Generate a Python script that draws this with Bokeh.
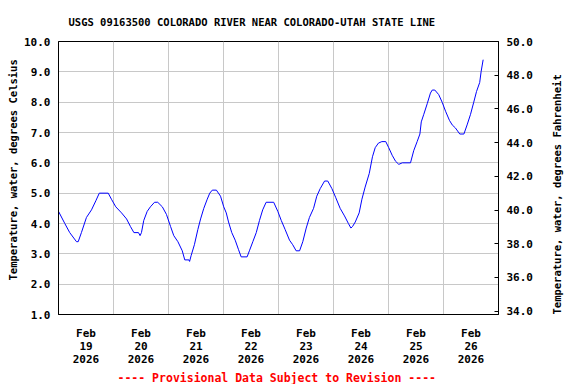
import math
from bokeh.plotting import figure
from bokeh.models import Range1d, LinearAxis, FixedTicker, PrintfTickFormatter, Title
from bokeh.embed import file_html
from bokeh.resources import INLINE

# Hours since 2026-02-19 00:00 and water temperature (deg C)
hours = [0.0, 2.75, 4.9, 7.85, 8.6, 10.0, 12.2, 14.4, 16.3, 17.8, 21.7, 23.1, 25.0, 27.5,
         29.7, 31.4, 32.9, 34.9, 35.6, 36.2, 37.2, 38.7, 40.1, 41.9, 43.3, 45.3, 47.1,
         48.9, 50.3, 52.1, 54.0, 55.1, 56.9, 57.2, 57.9, 59.3, 60.8, 62.0, 63.4, 64.9,
         66.0, 67.1, 68.9, 70.7, 72.1, 73.2, 74.2, 75.6, 77.1, 78.5, 79.7, 82.3, 83.3,
         84.8, 86.3, 87.7, 89.1, 90.6, 93.9, 95.7, 97.2, 98.9, 100.8, 102.2, 103.7,
         105.2, 106.6, 108.1, 109.5, 111.3, 112.7, 114.2, 116.1, 117.5, 119.3, 121.0,
         122.9, 124.8, 126.5, 127.6, 128.3, 129.5, 131.2, 132.4, 133.8, 135.6, 137.0,
         138.2, 139.6, 141.1, 142.8, 144.1, 145.6, 147.1, 148.5, 150.0, 153.6, 155.0,
         156.5, 157.7, 158.3, 159.4, 160.9, 162.3, 163.1, 164.2, 165.9, 167.4, 168.9,
         170.6, 171.8, 173.2, 175.1, 176.9, 178.3, 179.8, 181.2, 182.4, 183.8, 184.4,
         185.3]
temp_c = [4.4, 4.0, 3.7, 3.4, 3.4, 3.7, 4.2, 4.45, 4.75, 5.0, 5.0, 4.8, 4.55, 4.35,
          4.15, 3.9, 3.7, 3.7, 3.6, 3.7, 4.1, 4.4, 4.55, 4.7, 4.7, 4.55, 4.3,
          3.9, 3.6, 3.4, 3.1, 2.8, 2.8, 2.75, 2.95, 3.3, 3.8, 4.15, 4.5, 4.8,
          5.0, 5.1, 5.1, 4.9, 4.55, 4.35, 4.05, 3.7, 3.45, 3.15, 2.9, 2.9, 3.1,
          3.4, 3.7, 4.1, 4.45, 4.7, 4.7, 4.4, 4.1, 3.8, 3.45, 3.3, 3.1,
          3.1, 3.4, 3.85, 4.2, 4.5, 4.9, 5.15, 5.4, 5.4, 5.15, 4.85,
          4.5, 4.25, 4.0, 3.85, 3.9, 4.05, 4.35, 4.8, 5.2, 5.65, 6.2,
          6.5, 6.65, 6.7, 6.7, 6.5, 6.25, 6.05, 5.95, 6.0, 6.0, 6.4,
          6.7, 6.95, 7.35, 7.6, 7.95, 8.3, 8.4, 8.4, 8.25, 8.0, 7.7,
          7.4, 7.25, 7.15, 6.95, 6.95, 7.25, 7.6, 8.0, 8.35, 8.65, 9.0,
          9.4]

day_label_hours = [12, 36, 60, 84, 108, 132, 156, 180]
day_labels = ["Feb\n19\n2026", "Feb\n20\n2026", "Feb\n21\n2026", "Feb\n22\n2026",
              "Feb\n23\n2026", "Feb\n24\n2026", "Feb\n25\n2026", "Feb\n26\n2026"]
day_grid_hours = [24, 48, 72, 96, 120, 144, 168]
c_ticks = [1, 2, 3, 4, 5, 6, 7, 8, 9, 10]
f_ticks = [34, 36, 38, 40, 42, 44, 46, 48, 50]

title_text = "USGS 09163500 COLORADO RIVER NEAR COLORADO-UTAH STATE LINE"
footer_text = "---- Provisional Data Subject to Revision ----"
left_label = "Temperature, water, degrees Celsius"
right_label = "Temperature, water, degrees Fahrenheit"

FONT = "DejaVu Sans Mono"

p = figure(width=576, height=384, output_backend="svg", toolbar_location=None,
           x_range=Range1d(0, 192), y_range=Range1d(1, 10),
           min_border_left=58, min_border_right=78, min_border_top=41,
           min_border_bottom=70)
p.extra_y_ranges = {"f": Range1d(1 * 9 / 5 + 32, 10 * 9 / 5 + 32)}

p.outline_line_color = "black"
p.outline_line_alpha = 1.0
p.background_fill_color = "white"
p.border_fill_color = "white"

# grids
p.xgrid.ticker = FixedTicker(ticks=day_grid_hours)
p.ygrid.ticker = FixedTicker(ticks=c_ticks)
for g in (p.xgrid, p.ygrid):
    g.grid_line_color = "#c8c8c8"
    g.grid_line_width = 1

# x axis
xa = p.xaxis[0]
xa.ticker = FixedTicker(ticks=day_label_hours)
xa.major_label_overrides = {h: t for h, t in zip(day_label_hours, day_labels)}
xa.major_tick_in = 0
xa.major_tick_out = 0
xa.minor_tick_in = 0
xa.minor_tick_out = 0
xa.major_label_standoff = 12

# left axis
ya = p.yaxis[0]
ya.ticker = FixedTicker(ticks=c_ticks)
ya.formatter = PrintfTickFormatter(format="%.1f")
ya.major_tick_in = 0
ya.major_tick_out = 0
ya.minor_tick_in = 0
ya.minor_tick_out = 0
ya.major_label_standoff = 8

# right axis
ra = LinearAxis(y_range_name="f", ticker=FixedTicker(ticks=f_ticks),
                formatter=PrintfTickFormatter(format="%.1f"))
ra.major_tick_in = 4
ra.major_tick_out = 0
ra.minor_tick_in = 0
ra.minor_tick_out = 0
ra.major_label_standoff = 8
ra.axis_label = right_label
ra.axis_label_standoff = 21
p.add_layout(ra, "right")

for ax in (xa, ya, ra):
    ax.major_label_text_font = FONT
    ax.major_label_text_font_style = "bold"
    ax.major_label_text_font_size = "11px"
    ax.major_label_text_color = "black"
    ax.major_label_text_line_height = 1.0
    ax.axis_label_text_font = FONT
    ax.axis_label_text_font_style = "bold"
    ax.axis_label_text_font_size = "10.5px"
    ax.axis_label_text_color = "black"
    ax.axis_line_color = "black"
    ax.major_tick_line_color = "black"

ra.axis_label_orientation = math.pi / 2
try:
    ra.axis_label_align = "start"
except Exception:
    pass

# title
p.title.text = title_text
p.title.align = "left"
p.title.offset = 10
p.title.text_font = FONT
p.title.text_font_style = "bold"
p.title.text_font_size = "10.5px"
p.title.text_color = "black"
p.title.standoff = 27

# left axis label (reads bottom to top)
p.add_layout(Title(text=left_label, align="left", offset=34, text_font=FONT,
                   text_font_style="bold", text_font_size="10.5px",
                   text_color="black", standoff=6), "left")

# footer
p.add_layout(Title(text=footer_text, align="left", offset=59, text_font=FONT,
                   text_font_style="bold", text_font_size="11.5px", text_color="red",
                   standoff=0), "below")

p.line(hours, temp_c, line_color="#0000ff", line_width=1)

open("out.html", "w").write(file_html(p, INLINE))
